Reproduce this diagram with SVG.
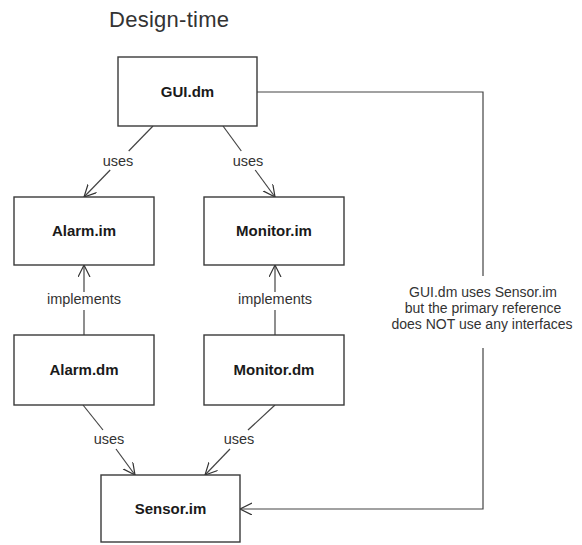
<svg xmlns="http://www.w3.org/2000/svg" width="582" height="545" viewBox="0 0 582 545">
<style>
.box{fill:#fff;stroke:#3a3a3a;stroke-width:1.4}
.nt{font-family:"Liberation Sans",Arial,sans-serif;font-size:15px;font-weight:bold;fill:#1a1a1a;text-anchor:middle}
.lb{font-family:"Liberation Sans",Arial,sans-serif;font-size:14.5px;fill:#333;text-anchor:middle}
.ln{fill:none;stroke:#444;stroke-width:1.2}
</style>
<defs>
<marker id="arr" markerWidth="14" markerHeight="14" refX="12" refY="6" orient="auto" markerUnits="userSpaceOnUse">
<path d="M0,0 L12,6 L0,12" fill="none" stroke="#333" stroke-width="1.2"/>
</marker>
</defs>
<rect width="582" height="545" fill="#fff"/>
<text x="169" y="27" font-family="Liberation Sans,Arial,sans-serif" font-size="22" fill="#333" text-anchor="middle" textLength="120">Design-time</text>
<g id="connectors">
<path class="ln" d="M153,126 L128.7,151"/>
<path class="ln" d="M110.2,170 L84,197" marker-end="url(#arr)"/>
<text class="lb" x="118" y="166">uses</text>
<path class="ln" d="M223,126 L241.3,151"/>
<path class="ln" d="M255.2,170 L275,197" marker-end="url(#arr)"/>
<text class="lb" x="248" y="166">uses</text>
<path class="ln" d="M84,335 L84,310"/>
<path class="ln" d="M84,292 L84,265" marker-end="url(#arr)"/>
<text class="lb" x="84" y="304">implements</text>
<path class="ln" d="M275,335 L275,310"/>
<path class="ln" d="M275,292 L275,265" marker-end="url(#arr)"/>
<text class="lb" x="275" y="304">implements</text>
<path class="ln" d="M83,405 L103,430"/>
<path class="ln" d="M116,449 L135,475" marker-end="url(#arr)"/>
<text class="lb" x="109" y="444">uses</text>
<path class="ln" d="M275,405 L248,430"/>
<path class="ln" d="M230,449 L205,475" marker-end="url(#arr)"/>
<text class="lb" x="239" y="444">uses</text>
<path class="ln" d="M257,92 L483,92 L483,276"/>
<path class="ln" d="M483,348 L483,509 L240,509" marker-end="url(#arr)"/>
<text class="lb" font-size="14" x="483" y="297" style="font-size:14px">GUI.dm uses Sensor.im</text>
<text class="lb" x="483" y="313" style="font-size:14px">but the primary reference</text>
<text class="lb" x="482" y="329" style="font-size:14px">does NOT use any interfaces</text>
</g>
<g id="gui-dm"><rect class="box" x="118" y="57" width="139" height="69"/><text class="nt" x="187.5" y="97">GUI.dm</text></g>
<g id="alarm-im"><rect class="box" x="14" y="197" width="140" height="68"/><text class="nt" x="84" y="236">Alarm.im</text></g>
<g id="monitor-im"><rect class="box" x="204" y="197" width="140" height="68"/><text class="nt" x="274" y="236">Monitor.im</text></g>
<g id="alarm-dm"><rect class="box" x="14" y="335" width="140" height="70"/><text class="nt" x="84" y="375">Alarm.dm</text></g>
<g id="monitor-dm"><rect class="box" x="204" y="335" width="140" height="70"/><text class="nt" x="274" y="375">Monitor.dm</text></g>
<g id="sensor-im"><rect class="box" x="101" y="475" width="139" height="67"/><text class="nt" x="170.5" y="514">Sensor.im</text></g>
</svg>
